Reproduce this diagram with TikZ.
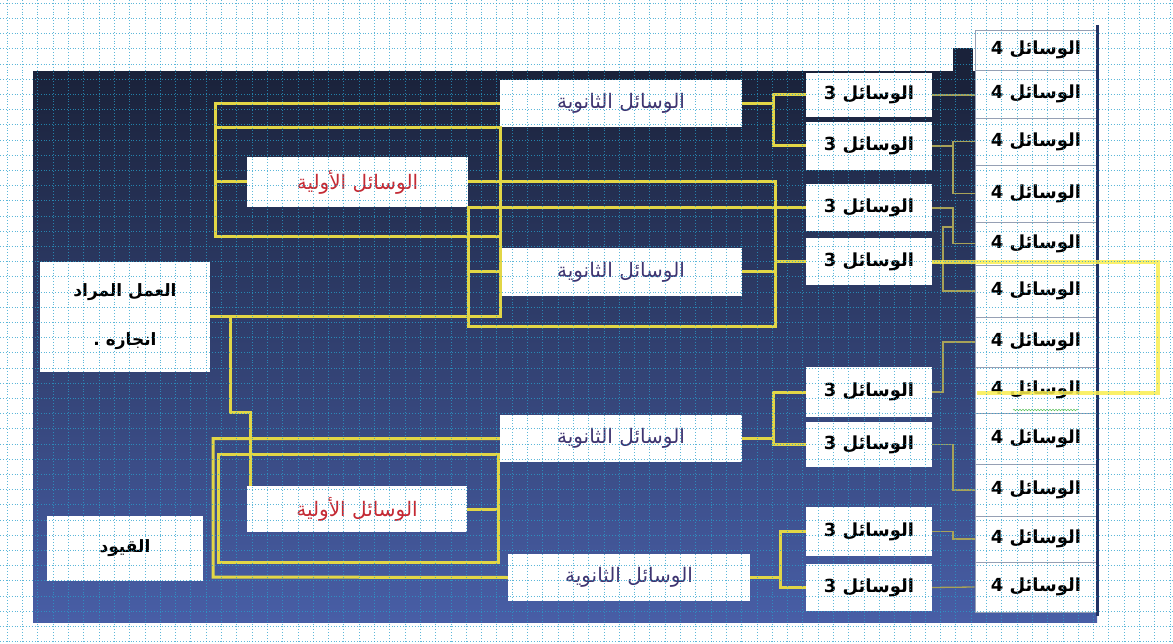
\documentclass[tikz,border=0pt]{standalone}
\usepackage{fontspec}
\newfontfamily\arabicfont[Script=Arabic]{DejaVu Sans}
\TeXXeTstate=1
\usetikzlibrary{decorations.pathmorphing}
\definecolor{navytop}{RGB}{26,34,58}
\definecolor{navybot}{RGB}{72,94,166}
\definecolor{wirey}{RGB}{226,214,70}
\definecolor{bigy}{RGB}{250,238,80}
\definecolor{twigc}{RGB}{168,162,88}
\definecolor{edgeblue}{RGB}{32,50,100}
\definecolor{cellc}{RGB}{150,160,180}
\definecolor{gridc}{RGB}{40,160,205}
\definecolor{redtxt}{RGB}{196,42,52}
\definecolor{bluetxt}{RGB}{62,52,112}
\newcommand{\artext}[1]{{\arabicfont\beginR #1\endR}}
\begin{document}
\begin{tikzpicture}[x=1pt,y=-1pt,
  box/.style={fill=white,inner sep=0pt,font=\fontsize{20}{23}\selectfont},
  midbox/.style={box,minimum width=126pt,font=\fontsize{18}{21}\selectfont\bfseries},
  cell/.style={box,draw=cellc,line width=0.8pt,minimum width=122pt,font=\fontsize{18}{21}\selectfont\bfseries},
  wire/.style={draw=wirey,line width=3pt},
  bigwire/.style={draw=bigy,line width=4pt,opacity=0.85},
  twig/.style={draw=twigc,line width=1.3pt}]
\useasboundingbox (0,0) rectangle (1173,644);
\fill[white] (0,0) rectangle (1173,644);

% panel
\shade[top color=navytop,bottom color=navybot] (33,72) rectangle (1097,622);
\fill[navytop] (953,48) rectangle (973,93);

% right column
\foreach \ya/\yb [count=\n] in {30/70,70/118,118/165,165/222,222/265,265/317,317/367,367/413,413/464,464/516,516/562,562/612}
{\pgfmathsetmacro\hh{\yb-\ya}\pgfmathsetmacro\cc{(\ya+\yb)/2}
 \node[cell,minimum height=\hh pt] (fin\n) at (1036,\cc) {\artext{الوسائل 4}};}
\draw[edgeblue,line width=3pt] (1097,25) -- (1097,616);
\draw[green!45!gray,decorate,decoration={snake,amplitude=0.8pt,segment length=3pt}] (1013,410) -- (1078,410);

% middle column
\foreach \ya/\yb [count=\n] in {73/117,122/170,184.5/231.5,238.5/285.5,367/417,422/467,507/556,564/611}
{\pgfmathsetmacro\hh{\yb-\ya}\pgfmathsetmacro\cc{(\ya+\yb)/2}
 \node[midbox,minimum height=\hh pt] (mid\n) at (869,\cc) {\artext{الوسائل 3}};}

\node[box,minimum width=170pt,minimum height=110pt,align=center,font=\fontsize{17}{20}\selectfont\bfseries] (task) at (125,317) {\artext{العمل المراد}\\[29pt]\artext{انجازه .}};
\node[box,minimum width=156pt,minimum height=65pt,font=\fontsize{17}{20}\selectfont\bfseries] (limits) at (125,548) {\artext{القيود}};
\node[box,minimum width=221pt,minimum height=50pt,text=redtxt] (prim1) at (357.5,182) {\artext{الوسائل الأولية}};
\node[box,minimum width=220pt,minimum height=46pt,text=redtxt] (prim2) at (357,509) {\artext{الوسائل الأولية}};
\node[box,minimum width=242pt,minimum height=47pt,text=bluetxt] (sec1) at (621,103.5) {\artext{الوسائل الثانوية}};
\node[box,minimum width=242pt,minimum height=48pt,text=bluetxt] (sec2) at (621,272) {\artext{الوسائل الثانوية}};
\node[box,minimum width=242pt,minimum height=47pt,text=bluetxt] (sec3) at (621,438.5) {\artext{الوسائل الثانوية}};
\node[box,minimum width=242pt,minimum height=47pt,text=bluetxt] (sec4) at (629,577.5) {\artext{الوسائل الثانوية}};

\coordinate (b1) at (773,0);
\coordinate (b2) at (773,0);
\coordinate (b3) at (780,0);
\coordinate (jog) at (250,412);
\coordinate (t) at (953,0);
\coordinate (t2) at (943,0);

% upper wires
\draw[wire] (sec1.west) -- (215,103.5) -- (215,237) -- (500,237);
\draw[wire] (215,128) -- (500,128) -- (500,317) -- (task.east);
\draw[wire] (215,182) -- (prim1.west);
\draw[wire] (230,317) -- (230,412) -- (jog) -- (jog |- prim2.north);
\draw[wire] (prim1.east) -- (775,182) -- (775,327) -- (468,327) -- (468,208) -- (mid3.west);
\draw[wire] (468,272) -- (sec2.west);
\draw[wire] (sec2.east) -- (775,272);
\draw[wire] (775,262) -- (mid4.west);
\draw[wire] (sec1.east) -- (b1 |- sec1.east);
\draw[wire] (mid1.west) -- (b1 |- mid1.west) -- (b1 |- mid2.west) -- (mid2.west);

% lower wires
\draw[wire] (sec3.west) -| (213,577) -- (sec4.west);
\draw[wire] (218,454) rectangle (498,562);
\draw[wire] (prim2.east) -- (498,509);
\draw[wire] (sec3.east) -- (b2 |- sec3.east);
\draw[wire] (mid5.west) -- (b2 |- mid5.west) -- (b2 |- mid6.west) -- (mid6.west);
\draw[wire] (sec4.east) -- (b3 |- sec4.east);
\draw[wire] (mid7.west) -- (b3 |- mid7.west) -- (b3 |- mid8.west) -- (mid8.west);

% thin links
\draw[twig] (mid1.east) -- (fin2.west |- mid1.east);
\draw[twig] (mid2.east) -- (t |- mid2.east);
\draw[twig] (fin3.west) -| (t |- fin4.west) -- (fin4.west);
\draw[twig] (mid3.east) -| (t |- fin5.west) -- (fin5.west);
\draw[twig] (mid4.east) -- (t2 |- mid4.east);
\draw[twig] (953,227) -- (943,227) |- (fin6.west);
\draw[twig] (mid5.east) -| (t2 |- fin7.west) -- (fin7.west);
\draw[twig] (mid6.east) -| (t |- fin10.west) -- (fin10.west);
\draw[twig] (mid7.east) -| (t |- fin11.west) -- (fin11.west);
\draw[twig] (mid8.east) -- (fin12.west);

\draw[bigwire] (mid4.east) -- (1158,262) -- (1158,393) -- (977,393);

% grid
\foreach \i in {0,...,76}
  \draw[gridc,dotted,line width=0.9pt,opacity=0.75] ({7.3+15.3*\i},0) -- ++(0,644);
\foreach \j in {0,...,42}
  \draw[gridc,dotted,line width=0.9pt,opacity=0.75] (0,{3.3+15.2*\j}) -- ++(1173,0);
\end{tikzpicture}
\end{document}
